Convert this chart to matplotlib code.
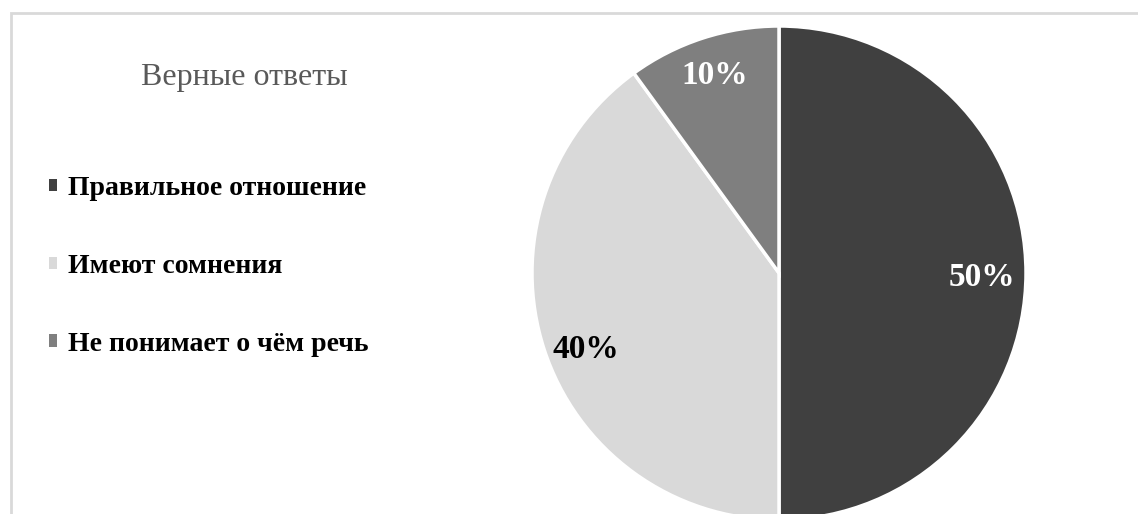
import matplotlib.pyplot as plt
from matplotlib.patches import Rectangle

# answer shares
labels = ['Правильное отношение', 'Имеют сомнения', 'Не понимает о чём речь']
shares = [50, 40, 10]
colors = ['#404040', '#d9d9d9', '#7f7f7f']
text_colors = ['white', 'black', 'white']
title = 'Верные ответы'

plt.rcParams['font.family'] = ['Liberation Serif', 'DejaVu Serif']

W, H = 1138, 514
fig = plt.figure(figsize=(W / 100, H / 100), dpi=100)

# outer frame, only the left and top edges are visible
top = (H - 13.5) / H
frame = Rectangle((11 / W, -0.2), 1.2, top + 0.2,
                  transform=fig.transFigure, fill=False,
                  edgecolor='#d9d9d9', linewidth=2, clip_on=False)
fig.patches.append(frame)

# pie centre (779, 273) px, radius 247 px
cx, cy, r = 779, 273, 247
ax = fig.add_axes([(cx - r) / W, (H - cy - r) / H, 2 * r / W, 2 * r / H])
wedges, _ = ax.pie(shares, colors=colors, startangle=90, counterclock=False,
                   radius=1, wedgeprops=dict(edgecolor='white', linewidth=2.5))
ax.set_xlim(-1, 1)
ax.set_ylim(-1, 1)
ax.set_aspect('equal')
ax.axis('off')

# percentage labels placed in each wedge
label_pos = [(0.82, -0.02), (-0.78, -0.31), (-0.26, 0.80)]
for (x, y), v, tc in zip(label_pos, shares, text_colors):
    ax.text(x, y, f'{v}%', ha='center', va='center', color=tc,
            fontsize=24, fontweight='bold')

fig.text(244 / W, 1 - 78 / H, title, ha='center', va='center',
         fontsize=23, color='#595959')

leg = fig.legend(wedges, labels, loc='upper left',
                 bbox_to_anchor=(24 / W, 1 - 151 / H), frameon=False,
                 prop=dict(size=20, weight='bold'), handlelength=0.3,
                 handleheight=0.3, handletextpad=0.4, labelspacing=1.9)
for h in leg.legend_handles:
    h.set_linewidth(0)

fig.savefig('out.png', dpi=100)
